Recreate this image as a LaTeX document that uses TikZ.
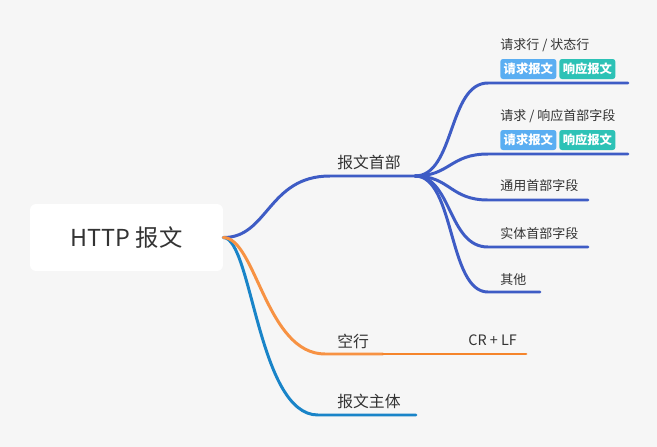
\documentclass[tikz,border=0pt]{standalone}
\usepackage{fontspec}
\setmainfont{Noto Sans CJK SC}
\usetikzlibrary{math}

\definecolor{bgcol}{HTML}{F6F6F6}
\definecolor{txtcol}{HTML}{333333}
\definecolor{headblue}{HTML}{3E5CC5}
\definecolor{gaporange}{HTML}{F79243}
\definecolor{crlforange}{HTML}{F5852C}
\definecolor{bodyblue}{HTML}{1984C8}
\definecolor{reqtag}{HTML}{5AAEF2}
\definecolor{restag}{HTML}{2DC2B6}

\begin{document}
\begin{tikzpicture}[x=0.02cm, y=-0.02cm,
    topic/.style={anchor=west, inner sep=0pt, text=txtcol, font=\fontsize{9}{10}\selectfont},
    leaf/.style={anchor=west, inner sep=0pt, text=txtcol, font=\fontsize{7.4}{9}\selectfont},
    tagbox/.style={anchor=west, rounded corners=1.5pt, inner sep=0pt, minimum width=1.12cm,
        minimum height=0.4cm, text=white, font=\fontsize{7}{8}\selectfont\bfseries},
    branch/.style={line width=1.7pt, line cap=round}]
    \tikzmath{\hx = 415; \hy = 176; \lx = 488;}
    \path[fill=bgcol, use as bounding box] (0,0) rectangle (657,447);

    \node[fill=white, rounded corners=3.4pt, minimum width=3.86cm, minimum height=1.34cm,
        text=txtcol, font=\fontsize{13.3}{15}\selectfont] (root) at (126.5,237.5) {HTTP 报文};

    % main topics
    \node[topic] (head) at (337,162) {报文首部};
    \node[topic] (gap) at (337,341) {空行};
    \node[leaf, font=\fontsize{8.2}{9}\selectfont] (crlf) at (468,340) {CR + LF};
    \node[topic] (body) at (337,401) {报文主体};

    % header fields
    \node[leaf] (line) at (500,45) {请求行 / 状态行};
    \node[tagbox, fill=reqtag] (lineq) at (500,69) {请求报文};
    \node[tagbox, fill=restag] (liner) at (559,69) {响应报文};
    \node[leaf] (field) at (500,116) {请求 / 响应首部字段};
    \node[tagbox, fill=reqtag] (fieldq) at (500,140) {请求报文};
    \node[tagbox, fill=restag] (fieldr) at (559,140) {响应报文};
    \node[leaf] (general) at (500,186) {通用首部字段};
    \node[leaf] (entity) at (500,234) {实体首部字段};
    \node[leaf] (other) at (500,280) {其他};

    \coordinate (hub) at (\hx,\hy);
    \coordinate (lineE) at (628,83);
    \coordinate (fieldE) at (628,154);
    \coordinate (generalE) at (588,200);
    \coordinate (entityE) at (588,247);
    \coordinate (otherE) at (540,292);
    \coordinate (gapM) at (383,354);
    \coordinate (crlfE) at (526,354);
    \coordinate (bodyE) at (416,415);

    % root to main topics
    \draw[branch, headblue] (root.east) .. controls (268,238) and (268,\hy) .. (330,\hy) -- (hub);
    \draw[branch, bodyblue] (root.east) .. controls (252,238) and (258,415) .. (318,415) -- (bodyE);
    \draw[branch, gaporange] (root.east) .. controls (256,238) and (266,354) .. (325,354) -- (gapM);
    \draw[branch, crlforange] (gapM) -- (crlfE);

    % hub to header fields
    \draw[branch, headblue] (hub) .. controls (455,\hy) and (448,83) .. (\lx,83) -- (lineE);
    \draw[branch, headblue] (hub) .. controls (450,\hy) and (450,154) .. (\lx,154) -- (fieldE);
    \draw[branch, headblue] (hub) .. controls (450,\hy) and (450,200) .. (\lx,200) -- (generalE);
    \draw[branch, headblue] (hub) .. controls (452,\hy) and (448,247) .. (\lx,247) -- (entityE);
    \draw[branch, headblue] (hub) .. controls (455,\hy) and (448,292) .. (\lx,292) -- (otherE);
\end{tikzpicture}
\end{document}
